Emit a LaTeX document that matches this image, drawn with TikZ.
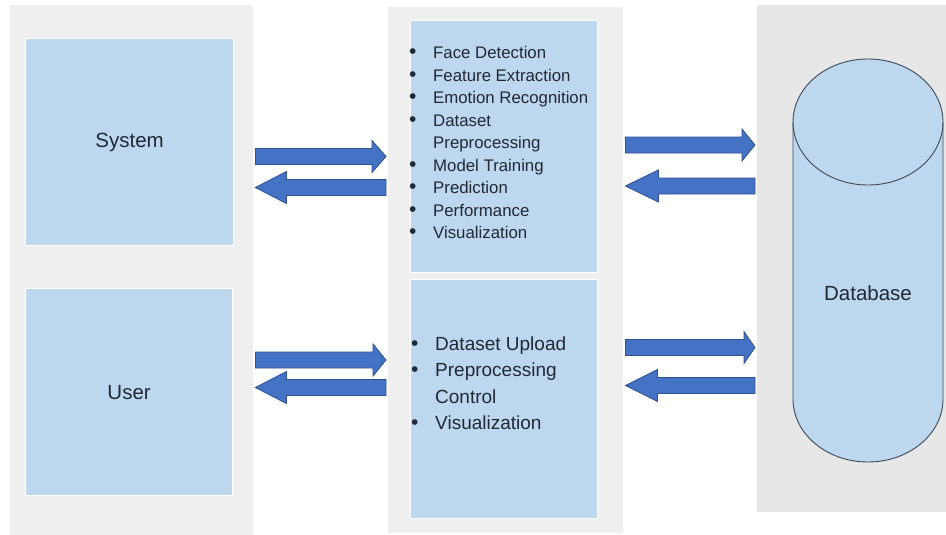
\documentclass[tikz,border=0pt]{standalone}
\usepackage{fontspec}
\setmainfont{Liberation Sans}
\usepackage{tikz}
\usetikzlibrary{calc}

\definecolor{panelgray}{HTML}{EFEFEF}
\definecolor{dbgray}{HTML}{E7E7E7}
\definecolor{boxblue}{HTML}{BDD7EE}
\definecolor{arrowblue}{HTML}{4472C4}
\definecolor{arrowedge}{HTML}{2F528F}
\definecolor{inkdark}{HTML}{1F2937}
\definecolor{dbedge}{HTML}{3B4A5A}

\tikzset{
  panel/.style={fill=panelgray, anchor=north west, inner sep=0pt},
  bluebox/.style={fill=boxblue, draw=white, line width=1.2pt, anchor=north west, inner sep=0pt,
                  text=inkdark, font=\fontsize{20.5}{24}\selectfont},
  listtext/.style={anchor=base west, inner sep=0pt, text=inkdark},
  fatarrow/.style={fill=arrowblue, draw=arrowedge, line width=0.8pt, line join=miter},
}

% bigger list bullet
\newcommand{\bul}{{\fontsize{21}{21}\selectfont\textbullet}}

% block arrow: tail, tip, head length
\newcommand{\blockarrow}[3]{%
  \draw[fatarrow] let \p1=#1, \p2=#2, \n1={sign(\x2-\x1)},
      \p3=($(\p1)!2pt!(\p2)$), \p4=($(\p2)!2pt!(\p1)$) in
    (\x3,{\y1-8pt}) -- ({\x4-(\n1)*#3pt},{\y1-8pt}) -- ({\x4-(\n1)*#3pt},{\y1-16pt}) -- (\x4,\y1)
    -- ({\x4-(\n1)*#3pt},{\y1+16pt}) -- ({\x4-(\n1)*#3pt},{\y1+8pt}) -- (\x3,{\y1+8pt}) -- cycle;
}

\begin{document}
\begin{tikzpicture}[x=1pt, y=-1pt]
\fill[white] (0,0) rectangle (946,535);
\useasboundingbox (0,0) rectangle (946,535);

% draw gray panels
\node[panel, minimum width=243pt, minimum height=530pt] (lp) at (10,5) {};
\node[panel, minimum width=235pt, minimum height=526pt] (mp) at (388,7) {};
\node[panel, fill=dbgray, minimum width=189pt, minimum height=507pt] (rp) at (757,5) {};

% draw blue boxes
\node[bluebox, minimum width=208pt, minimum height=207pt] (sys) at (25,38) {System};
\node[bluebox, minimum width=207pt, minimum height=207pt] (usr) at (25,288) {User};
\node[bluebox, minimum width=187pt, minimum height=252pt] (feat) at (410,20) {};
\node[bluebox, minimum width=187pt, minimum height=239pt] (ctrl) at (410,279) {};

% bullet lists
\node[listtext, font=\fontsize{16.8}{22.5}\selectfont] (featlist) at (409,59) {%
\begin{tabular}[t]{@{}p{24pt}@{}l@{}}
\bul & Face Detection\\
\bul & Feature Extraction\\
\bul & Emotion Recognition\\
\bul & Dataset\\
     & Preprocessing\\
\bul & Model Training\\
\bul & Prediction\\
\bul & Performance\\
\bul & Visualization
\end{tabular}};
\node[listtext, font=\fontsize{19}{26.5}\selectfont] (ctrllist) at (411,350) {%
\begin{tabular}[t]{@{}p{24pt}@{}l@{}}
\bul & Dataset Upload\\
\bul & Preprocessing\\
     & Control\\
\bul & Visualization
\end{tabular}};

% draw database cylinder
\fill[boxblue] (793,122) -- (793,399) arc (180:360:75pt and 63pt) -- (943,122) arc (0:180:75pt and 63pt) -- cycle;
\draw[dbedge, line width=0.9pt] (793,122) -- (793,399) arc (180:360:75pt and 63pt) -- (943,122);
\draw[dbedge, line width=0.9pt] (868,122) ellipse [x radius=75pt, y radius=63pt];
\node[text=inkdark, font=\fontsize{20.5}{24}\selectfont] (db) at (868,293) {Database};

% arrows between panels
\blockarrow{(lp.east |- 0,156.5)}{(mp.west |- 0,156.5)}{14}
\blockarrow{(mp.west |- 0,187.5)}{(lp.east |- 0,187.5)}{31}
\blockarrow{(lp.east |- 0,360)}{(mp.west |- 0,360)}{13}
\blockarrow{(mp.west |- 0,387.5)}{(lp.east |- 0,387.5)}{31}
%
\blockarrow{(mp.east |- 0,145)}{(rp.west |- 0,145)}{13}
\blockarrow{(rp.west |- 0,186)}{(mp.east |- 0,186)}{33}
\blockarrow{(mp.east |- 0,347.5)}{(rp.west |- 0,347.5)}{11}
\blockarrow{(rp.west |- 0,385.5)}{(mp.east |- 0,385.5)}{32}

\end{tikzpicture}
\end{document}
